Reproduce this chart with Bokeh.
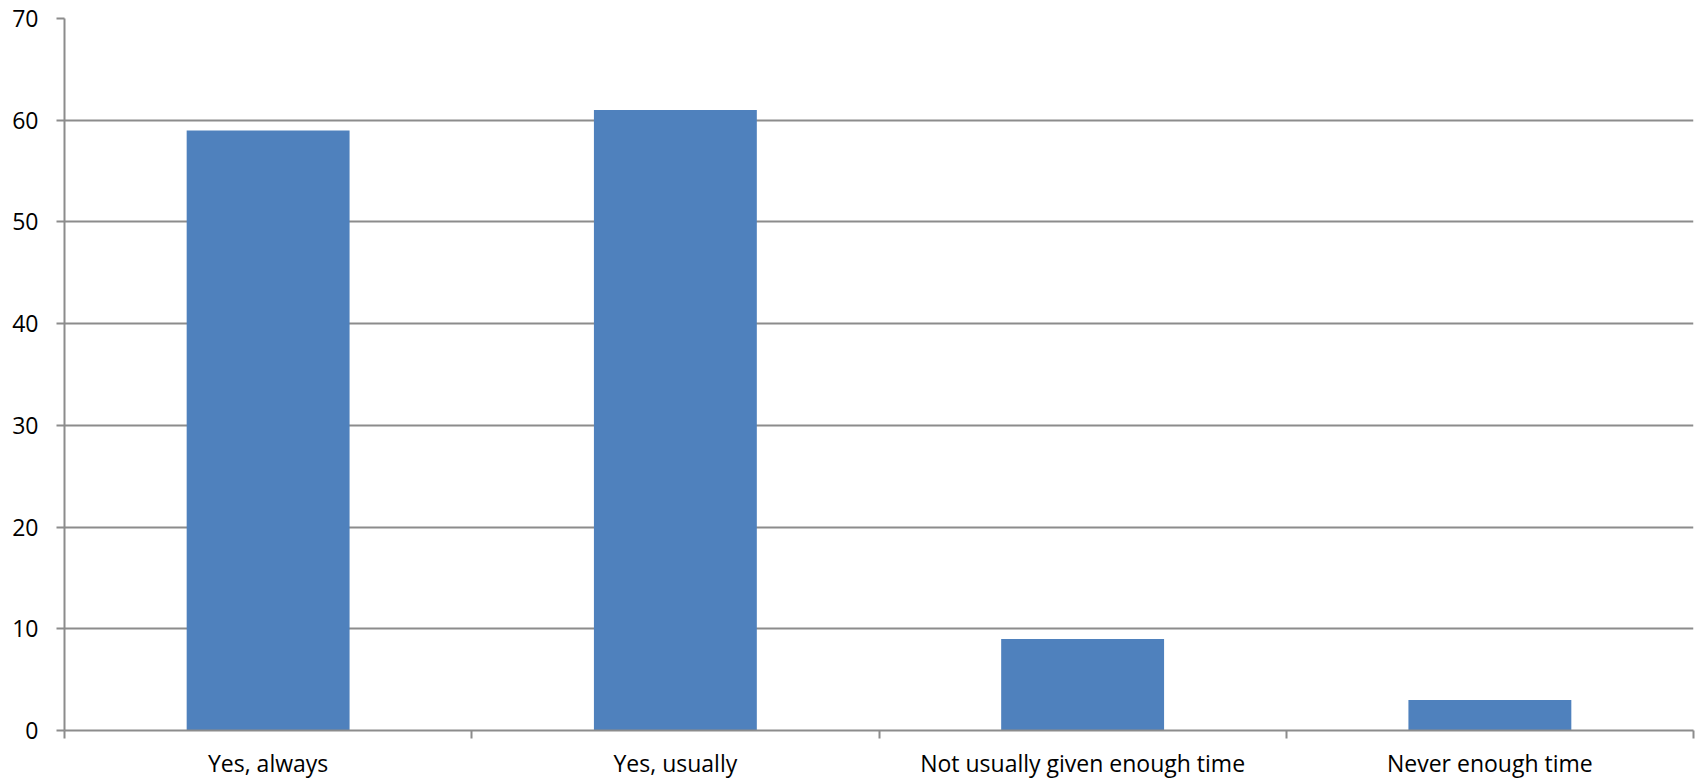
from bokeh.plotting import figure
from bokeh.models import ColumnDataSource, FixedTicker, Range1d
from bokeh.embed import file_html
from bokeh.resources import INLINE

# Survey responses: was enough time given?
categories = ["Yes, always", "Yes, usually", "Not usually given enough time", "Never enough time"]
counts = [59, 61, 9, 3]
y_ticks = [0, 10, 20, 30, 40, 50, 60, 70]

positions = [i + 0.5 for i in range(len(categories))]
source = ColumnDataSource(dict(x=positions, top=counts, label=categories))

p = figure(
    width=1702, height=781,
    x_range=Range1d(0, len(categories)), y_range=Range1d(0, 70),
    output_backend="svg", toolbar_location=None,
    min_border_left=64, min_border_right=9, min_border_top=18, min_border_bottom=40,
)
p.outline_line_color = None
p.background_fill_color = "white"

p.vbar(x="x", top="top", width=0.4, bottom=0, source=source,
       fill_color="#4F81BD", line_color=None)

font = "Open Sans"
grey = "#8c8c8c"

# y axis
p.yaxis.ticker = FixedTicker(ticks=y_ticks)
p.yaxis.axis_line_color = grey
p.yaxis.axis_line_width = 2
p.yaxis.major_tick_line_color = grey
p.yaxis.major_tick_line_width = 2
p.yaxis.major_tick_out = 8
p.yaxis.major_tick_in = 0
p.yaxis.minor_tick_line_color = None
p.yaxis.major_label_text_font = font
p.yaxis.major_label_text_font_size = "23px"
p.yaxis.major_label_text_color = "black"
p.yaxis.major_label_standoff = 18

p.ygrid.ticker = FixedTicker(ticks=y_ticks)
p.ygrid.grid_line_color = grey
p.ygrid.grid_line_width = 2
p.xgrid.grid_line_color = None

# x axis: labels at category centres, ticks on category boundaries
p.xaxis.ticker = FixedTicker(ticks=positions, minor_ticks=list(range(len(categories) + 1)))
p.xaxis.major_label_overrides = {pos: lab for pos, lab in zip(positions, categories)}
p.xaxis.axis_line_color = grey
p.xaxis.axis_line_width = 2
p.xaxis.major_tick_line_color = None
p.xaxis.major_tick_out = 0
p.xaxis.major_tick_in = 0
p.xaxis.minor_tick_line_color = grey
p.xaxis.minor_tick_line_width = 2
p.xaxis.minor_tick_out = 8
p.xaxis.minor_tick_in = 0
p.xaxis.major_label_text_font = font
p.xaxis.major_label_text_font_size = "23px"
p.xaxis.major_label_text_color = "black"
p.xaxis.major_label_standoff = 8

open("out.html", "w").write(file_html(p, INLINE))
